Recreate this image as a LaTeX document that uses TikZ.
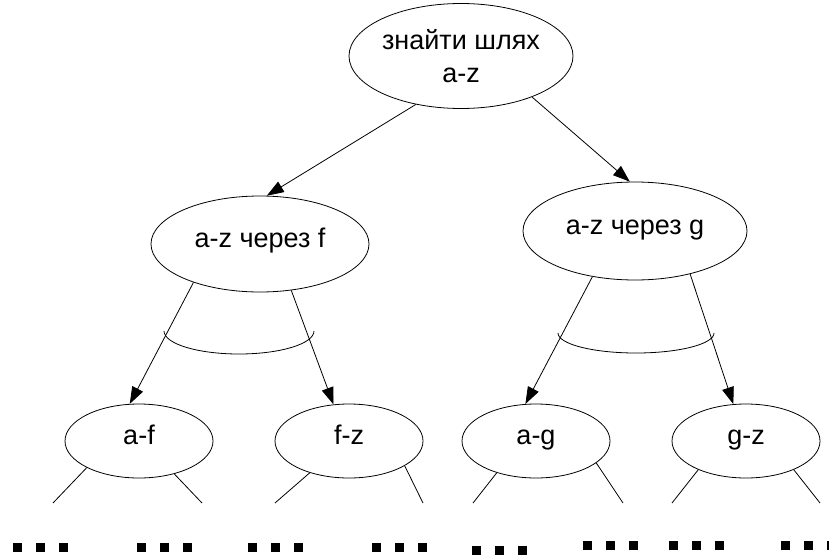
\documentclass[tikz,border=0pt]{standalone}
\usepackage{fontspec}
\setmainfont{Liberation Sans}
\usetikzlibrary{arrows.meta,shapes.geometric}

\tikzset{
	oval/.style={ellipse, draw, line width=0.8pt, inner sep=0pt, align=center, font=\fontsize{27}{33}\selectfont},
	goal/.style={oval, text height=0.72em, text depth=0pt},
	leaf/.style={goal, minimum width=148pt, minimum height=74pt},
	link/.style={line width=0.8pt, -{Triangle[length=17pt,width=12pt]}},
	stub/.style={line width=0.8pt},
}

\begin{document}
\begin{tikzpicture}[x=1pt,y=-1pt]
	\useasboundingbox (0,0) rectangle (829,554);

	% goals
	\node[oval, minimum width=224pt, minimum height=105pt] (path) at (461,56) {знайти шлях\\a-z};
	\node[goal, minimum width=218pt, minimum height=96pt] (viaF) at (260,244) {a-z через f};
	\node[goal, minimum width=224pt, minimum height=98pt] (viaG) at (635,231) {a-z через g};

	% subgoals
	\node[leaf] (af) at (139,441) {a-f};
	\node[leaf] (fz) at (349,441) {f-z};
	\node[leaf] (ag) at (536,441) {a-g};
	\node[leaf] (gz) at (746,441) {g-z};

	% or-links
	\draw[link] (path.227) -- (viaF.82);
	\draw[link] (path.330) -- (viaG.96);

	% and-links
	\draw[link] (viaF.210) -- (af.104);
	\draw[link] (viaF.304) -- (fz.113);
	\draw[link] (viaG.227) -- (ag.106);
	\draw[link] (viaG.322) -- (gz.109);
	\coordinate (andF) at (164,331);
	\coordinate (andG) at (558,333);
	\draw[stub] (andF) arc[start angle=180, end angle=0, x radius=75, y radius=23];
	\draw[stub] (andG) arc[start angle=180, end angle=0, x radius=78, y radius=20];

	% open ends
	\coordinate (afL) at (53,503);  \coordinate (afR) at (202,503);
	\coordinate (fzL) at (275,503); \coordinate (fzR) at (423,503);
	\coordinate (agL) at (473,503); \coordinate (agR) at (623,503);
	\coordinate (gzL) at (672,503); \coordinate (gzR) at (820,503);
	\draw[stub] (af.207) -- (afL);
	\draw[stub] (af.317) -- (afR);
	\draw[stub] (fz.219) -- (fzL);
	\draw[stub] (fz.336) -- (fzR);
	\draw[stub] (ag.219) -- (agL);
	\draw[stub] (ag.340) -- (agR);
	\draw[stub] (gz.211) -- (gzL);
	\draw[stub] (gz.329) -- (gzR);

	% dots
	\foreach \x/\y in {13/543, 137/543, 248/543, 372/543, 472/546, 583/541, 669/541, 781/541}
		\foreach \k in {0,1,2}
			\fill (\x+23*\k,\y) rectangle ++(9,9);

\end{tikzpicture}
\end{document}
